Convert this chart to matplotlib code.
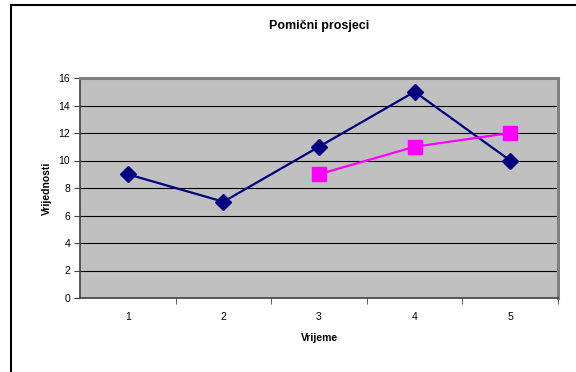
import matplotlib
matplotlib.use("Agg")
import matplotlib.pyplot as plt
from matplotlib.lines import Line2D
from matplotlib.ticker import FixedLocator

plt.rcParams['font.family'] = ['Liberation Sans', 'DejaVu Sans']

periods = [1, 2, 3, 4, 5]
values = [9, 7, 11, 15, 10]
avg_periods = [3, 4, 5]
moving_avg = [9, 11, 12]

fig = plt.figure(figsize=(5.76, 3.72), dpi=100)

# frame lines of the chart area
fig.add_artist(Line2D([11/576, 11/576], [0, 1 - 5/372], transform=fig.transFigure, color='black', lw=1.5))
fig.add_artist(Line2D([11/576, 1], [1 - 5/372, 1 - 5/372], transform=fig.transFigure, color='black', lw=1.5))

ax = fig.add_axes([80/576, 74/372, 478/576, 220/372])
ax.set_facecolor('#C0C0C0')

ax.plot(periods, values, color='#000080', lw=1.6, marker='D', markersize=8, zorder=3)
ax.plot(avg_periods, moving_avg, color='#FF00FF', lw=1.6, marker='s', markersize=10, zorder=3)

ax.set_xlim(0.5, 5.5)
ax.set_ylim(0, 16)
ax.set_yticks(range(0, 17, 2))
ax.yaxis.grid(True, color='black', lw=0.8)
ax.set_axisbelow(True)

ax.set_xticks(periods)
ax.xaxis.set_minor_locator(FixedLocator([1.5, 2.5, 3.5, 4.5, 5.5]))
ax.tick_params(axis='x', which='major', length=0, pad=10, labelsize=7.5)
ax.tick_params(axis='x', which='minor', length=4, direction='out', color='#404040')
ax.tick_params(axis='y', length=4, direction='out', color='#404040', labelsize=7.5, pad=3)

for s in ['top', 'right']:
    ax.spines[s].set_color('#808080')
    ax.spines[s].set_linewidth(2.2)
for s in ['left', 'bottom']:
    ax.spines[s].set_color('#404040')
    ax.spines[s].set_linewidth(1.2)

ax.set_xlabel('Vrijeme', fontsize=7.5, fontweight='bold', labelpad=8)
ax.set_ylabel('Vrijednosti', fontsize=7.5, fontweight='bold', labelpad=5)
fig.text((80 + 558) / 2 / 576, 1 - 26/372, 'Pomični prosjeci', ha='center', va='center',
         fontsize=9, fontweight='bold')

fig.savefig('out.png', dpi=100)
